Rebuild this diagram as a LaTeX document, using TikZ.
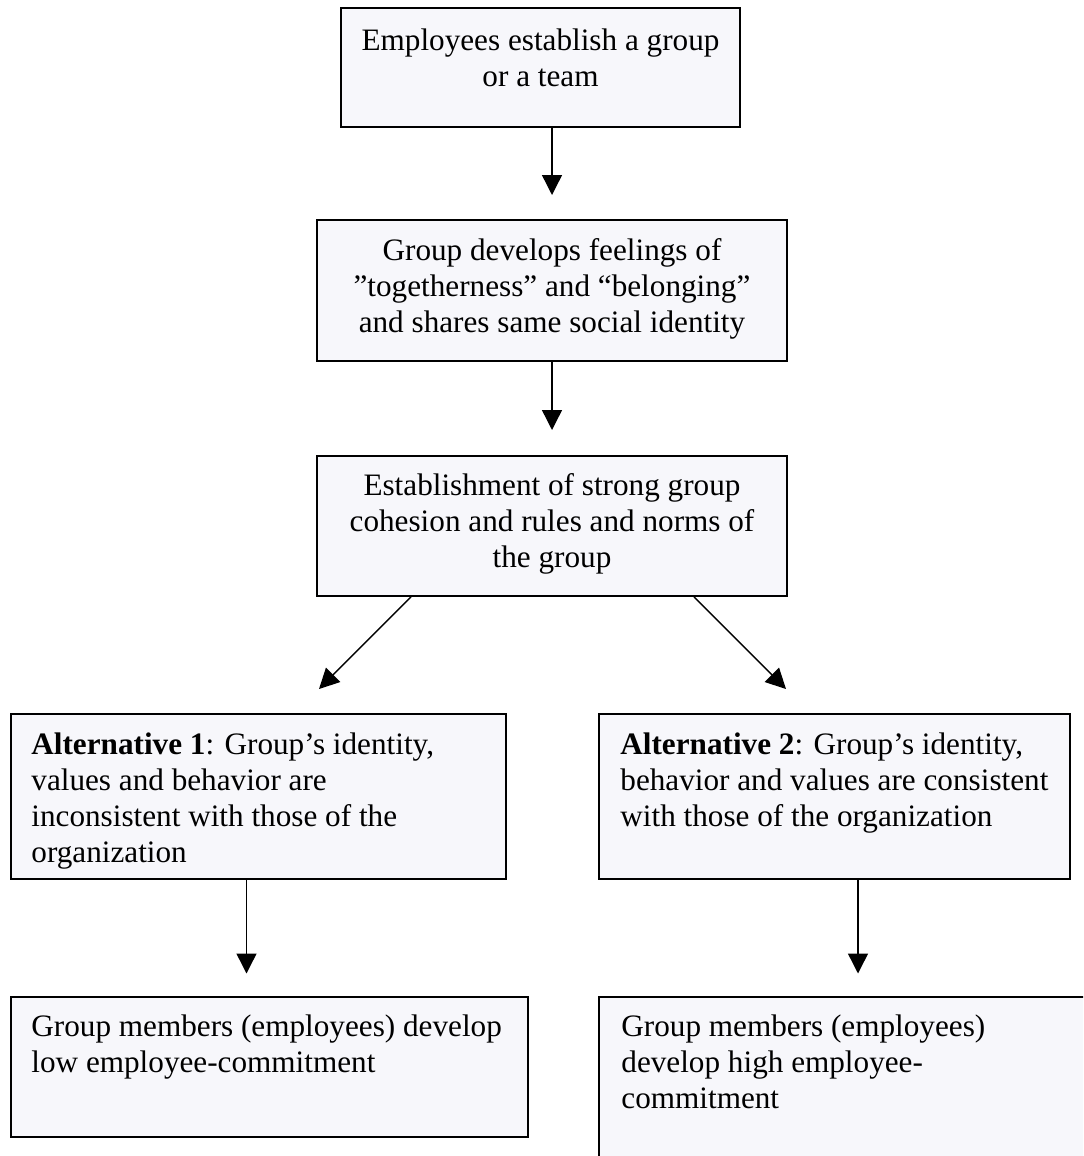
\documentclass[tikz,border=0pt]{standalone}
\usepackage{fontspec}
\setmainfont{Liberation Serif}
\usetikzlibrary{arrows.meta}
\definecolor{boxfill}{RGB}{247,247,251}
\newcommand\fstrut{\rule{0pt}{12pt}}
\begin{document}
\begin{tikzpicture}[x=0.5pt,y=-0.5pt,
  box/.style={draw=black, line width=0.85pt, fill=boxfill, rectangle, inner sep=0pt},
  txt/.style={inner sep=0pt, font=\fontsize{15.6pt}{18pt}\selectfont},
  conn/.style={line width=0.7pt, -{Triangle[length=10pt,width=10pt]}}]
\clip (0,0) rectangle (1083,1156);
\fill[white] (0,0) rectangle (1083,1156);
% boxes
\node[box, minimum width=199.5pt, minimum height=59.5pt] (b1) at (540.5,67.5) {};
\node[box, minimum width=235pt, minimum height=70.5pt] (b2) at (552,290.5) {};
\node[box, minimum width=235pt, minimum height=70pt] (b3) at (552,526) {};
\node[box, minimum width=247.5pt, minimum height=82.5pt] (b4) at (258.5,796.5) {};
\node[box, minimum width=235.5pt, minimum height=82.5pt] (b5) at (834.5,796.5) {};
\node[box, minimum width=258.5pt, minimum height=70pt] (b6) at (269.5,1067) {};
\node[box, minimum width=260.5pt, minimum height=101.5pt] (b7) at (859.5,1098.5) {};
% texts
\node[txt, anchor=north, align=center] (t1) at (540.5,26) {\fstrut Employees establish a group\\or a team};
\node[txt, anchor=north, align=center] (t2) at (552,236) {\fstrut Group develops feelings of\\”togetherness” and “belonging”\\and shares same social identity};
\node[txt, anchor=north, align=center] (t3) at (552,471) {\fstrut Establishment of strong group\\cohesion and rules and norms of\\the group};
\node[txt, anchor=north west, align=left] (t4) at (31,730) {\fstrut\textbf{Alternative 1}: Group’s identity,\\values and behavior are\\inconsistent with those of the\\organization};
\node[txt, anchor=north west, align=left] (t5) at (620,730) {\fstrut\textbf{Alternative 2}: Group’s identity,\\behavior and values are consistent\\with those of the organization};
\node[txt, anchor=north west, align=left] (t6) at (31,1012) {\fstrut Group members (employees) develop\\low employee-commitment};
\node[txt, anchor=north west, align=left] (t7) at (621,1012) {\fstrut Group members (employees)\\develop high employee-\\commitment};
% connector ends
\coordinate (e1) at (552,195);
\coordinate (e2) at (552,430);
\coordinate (xl) at (411,0);
\coordinate (xr) at (694,0);
\coordinate (el) at (319,689);
\coordinate (er) at (786,689);
\coordinate (e4) at (246.5,973.5);
\coordinate (e5) at (858,973.5);
\draw[conn] (b1.south -| e1) -- (e1);
\draw[conn] (b2.south -| e2) -- (e2);
\draw[conn] (b3.south -| xl) -- (el);
\draw[conn] (b3.south -| xr) -- (er);
\draw[conn] (b4.south -| e4) -- (e4);
\draw[conn] (b5.south -| e5) -- (e5);
\end{tikzpicture}
\end{document}
